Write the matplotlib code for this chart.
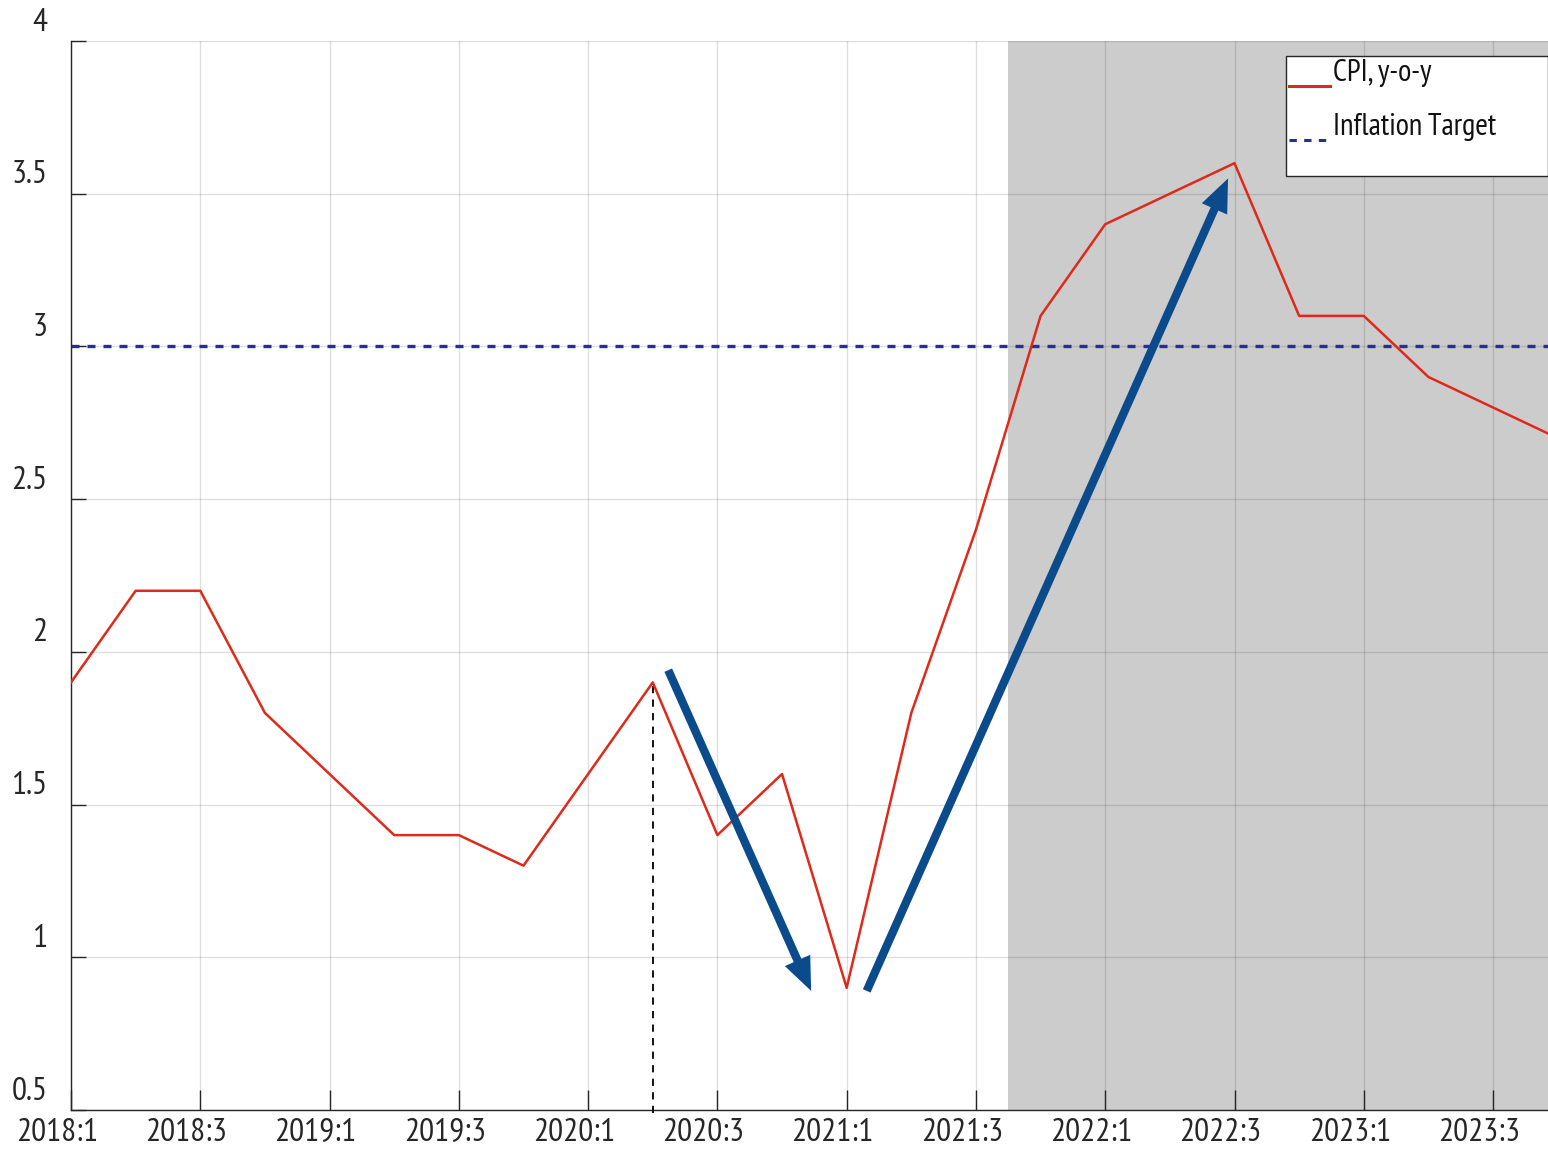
import matplotlib
matplotlib.use("Agg")
import matplotlib.pyplot as plt
from matplotlib.transforms import ScaledTranslation
from matplotlib.patches import Rectangle
from matplotlib import font_manager as fm

# ---------------- data ----------------
quarters = ["2018:1", "2018:2", "2018:3", "2018:4",
            "2019:1", "2019:2", "2019:3", "2019:4",
            "2020:1", "2020:2", "2020:3", "2020:4",
            "2021:1", "2021:2", "2021:3", "2021:4",
            "2022:1", "2022:2", "2022:3", "2022:4",
            "2023:1", "2023:2", "2023:3", "2023:4"]
cpi = [1.9, 2.2, 2.2, 1.8,
       1.6, 1.4, 1.4, 1.3,
       1.6, 1.9, 1.4, 1.6,
       0.9, 1.8, 2.4, 3.1,
       3.4, 3.5, 3.6, 3.1,
       3.1, 2.9, 2.8, 2.7]
inflation_target = 3.0
y_ticks = [0.5, 1, 1.5, 2, 2.5, 3, 3.5, 4]
y_tick_labels = ["0.5", "1", "1.5", "2", "2.5", "3", "3.5", "4"]
x_tick_labels = quarters[::2]
series_labels = ["CPI, y-o-y", "Inflation Target"]
forecast_start = 14.5          # shaded projection period
marker_quarter = 9             # 2020:2 vertical dashed marker
arrow_down = [(9.24, 1.94), (11.45, 0.89)]
arrow_up = [(12.31, 0.89), (17.9, 3.55)]

# ---------------- style ----------------
avail = {f.name for f in fm.fontManager.ttflist}
fam = [f for f in ["PT Sans Narrow", "Archivo Narrow", "Open Sans", "DejaVu Sans"] if f in avail]
plt.rcParams["font.family"] = fam
FS = 24
LFS = 22

W, H, DPI = 1548, 1154, 100
fig = plt.figure(figsize=(W / DPI, H / DPI), dpi=DPI)
ax = fig.add_axes([71 / W, 1 - 1110 / H, (1548 - 71) / W, (1110 - 41) / H])

x = list(range(len(quarters)))

ax.axvspan(forecast_start, len(quarters), color="#cccccc", lw=0, zorder=0.2)

ax.plot(x, cpi, color="#dd2a1b", lw=1.8, zorder=3, label=series_labels[0])
ax.axhline(inflation_target, color="#2a2aa5", lw=2.4, dashes=(2.4, 2.4),
           zorder=2.5, label=series_labels[1])

ax.vlines(marker_quarter, 0.49, cpi[marker_quarter], colors="black", lw=1.3,
          linestyles=(0, (4, 3.5)), zorder=2.6, clip_on=False)

arrow_color = "#0b4a8b"
for (x0, y0), (x1, y1) in [arrow_down, arrow_up]:
    ax.annotate("", xy=(x1, y1), xytext=(x0, y0),
                arrowprops=dict(arrowstyle="simple,head_length=0.6,head_width=0.5,tail_width=0.15",
                                mutation_scale=40, lw=0, facecolor=arrow_color,
                                edgecolor="none", shrinkA=0, shrinkB=0),
                zorder=4)

ax.set_xlim(0, 22.85)
ax.set_ylim(0.5, 4)
ax.set_xticks(x[::2])
ax.set_xticklabels(x_tick_labels)
ax.set_yticks(y_ticks)
ax.set_yticklabels(y_tick_labels)

ax.set_axisbelow(True)
ax.grid(True, color="#262626", alpha=0.15, lw=1.0)

for s in ["top", "right"]:
    ax.spines[s].set_visible(False)
for s in ["left", "bottom"]:
    ax.spines[s].set_color("#262626")
    ax.spines[s].set_linewidth(1.0)

ax.tick_params(axis="x", direction="in", length=14.4, width=1.0, color="#262626",
               labelsize=FS, labelcolor="#262626", pad=6)
ax.tick_params(axis="y", direction="in", length=10.8, width=1.0, color="#262626",
               labelsize=FS, labelcolor="#262626", pad=17)

for lab in ax.get_xticklabels():
    lab.set_transform(lab.get_transform() + ScaledTranslation(-14 / DPI, 0, fig.dpi_scale_trans))
for lab in ax.get_yticklabels():
    lab.set_transform(lab.get_transform() + ScaledTranslation(0, 22 / DPI, fig.dpi_scale_trans))

# legend box (MATLAB style) drawn as a plain rectangle, entries on top
box = Rectangle((1286 / W, 1 - 176 / H), (1548 - 1286) / W, (176 - 56) / H,
                transform=fig.transFigure, facecolor="white", edgecolor="#262626",
                lw=1.0, zorder=4.5, clip_on=False)
ax.add_patch(box)

leg = ax.legend(loc="upper left", bbox_to_anchor=(1289 / W, 1 - 59 / H),
                bbox_transform=fig.transFigure, borderaxespad=0,
                fontsize=LFS, frameon=False, handlelength=1.35, handletextpad=0.1,
                borderpad=0.0, labelspacing=0.85)
leg.set_zorder(5)
for t in leg.get_texts():
    t.set_color("#111111")
for ln in leg.get_lines():
    ln.set_linewidth(2.2)
    ln.set_transform(ln.get_transform() + ScaledTranslation(0, -16 / DPI, fig.dpi_scale_trans))

fig.savefig("out.png", dpi=DPI)
